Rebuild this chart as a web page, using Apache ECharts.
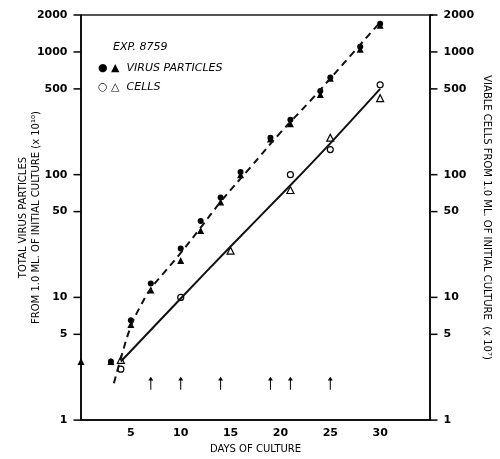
<!DOCTYPE html><html><head><meta charset="utf-8"><script src="https://cdn.jsdelivr.net/npm/echarts@6/dist/echarts.min.js"></script>
<style>html,body{margin:0;background:#fff}#c{width:500px;height:459px}</style></head><body><div id="c"></div><script>
const virusDots=[[3,3],[5,6.5],[7,13],[10,25],[12,42],[14,65],[16,105],[19,200],[21,280],[24,480],[25,620],[28,1100],[30,1700]];
const virusTri=[[0,3],[3,3],[5,6],[7,11.5],[10,20],[12,35],[14,60],[16,100],[19,195],[21,260],[24,450],[25,610],[28,1050],[30,1650]];
const cellCircles=[[4,2.6],[10,10],[21,100],[25,160],[30,540]];
const cellTri=[[4,3.1],[15,24],[21,75],[25,200],[30,420]];
const virusCurve=[[3.3,2],[4,3.2],[5,5.8],[6,8.6],[7,11.8],[8.5,16.5],[10,23],[12,37],[14,60],[17,115],[20,220],[23,400],[26,750],[30,1750]];
const cellLine=[[4,3],[10,9.8],[15,26],[21,82],[25,180],[30,500]];
const arrowDays=[7,10,14,19,21,25];
const yTicks=[1,5,10,50,100,500,1000,2000];
const F='DejaVu Sans';
const ch=echarts.init(document.getElementById('c'));
const tickL=yTicks.map(v=>[0,v]), tickR=yTicks.map(v=>[35,v]);
const lab={color:'#000',fontFamily:F,fontSize:11,fontWeight:'bold',textBorderWidth:0};
ch.setOption({
 animation:false,
 grid:{left:81,right:67,top:15,bottom:37},
 xAxis:{type:'value',min:0,max:35,interval:5,axisLine:{onZero:false,lineStyle:{color:'#111',width:2}},axisTick:{show:false},splitLine:{show:false},
  axisLabel:Object.assign({formatter:v=>(v>0&&v<35)?v:''},lab),
  name:'DAYS OF CULTURE',nameLocation:'middle',nameGap:22,nameTextStyle:{color:'#000',fontFamily:F,fontSize:10}},
 yAxis:[{type:'log',logBase:10,min:1,max:2000,axisLine:{show:true,lineStyle:{color:'#111',width:2}},axisTick:{show:false},axisLabel:{show:false},splitLine:{show:false},
  name:'TOTAL VIRUS PARTICLES\nFROM 1.0 ML. OF INITIAL CULTURE (x 10¹⁰)',nameLocation:'middle',nameGap:38,nameRotate:90,nameTextStyle:{color:'#000',fontFamily:F,fontSize:10,lineHeight:13}},
  {type:'log',logBase:10,min:1,max:2000,position:'right',axisLine:{show:true,lineStyle:{color:'#111',width:2}},axisTick:{show:false},axisLabel:{show:false},splitLine:{show:false},
  name:'VIABLE CELLS FROM 1.0 ML. OF INITIAL CULTURE  (x 10⁷)',nameLocation:'middle',nameGap:52,nameRotate:-90,nameTextStyle:{color:'#000',fontFamily:F,fontSize:10}}],
 graphic:[
  {type:'line',shape:{x1:81,y1:15,x2:433,y2:15},style:{stroke:'#555',lineWidth:2}},
  {type:'text',left:113,top:42,style:{text:'EXP. 8759',font:'italic 11px "DejaVu Sans"',fill:'#000'}},
  {type:'text',left:98,top:63,style:{text:'● ▲  VIRUS PARTICLES',font:'italic 11px "DejaVu Sans"',fill:'#000'}},
  {type:'text',left:98,top:82,style:{text:'○ △  CELLS',font:'italic 11px "DejaVu Sans"',fill:'#000'}}
 ],
 series:[
  {type:'line',data:virusCurve,smooth:0.4,showSymbol:false,lineStyle:{color:'#111',width:2,type:[7,5]}},
  {type:'line',data:cellLine,smooth:0.3,showSymbol:false,lineStyle:{color:'#111',width:2}},
  {type:'scatter',data:virusDots,symbol:'circle',symbolSize:6,itemStyle:{color:'#000',opacity:1}},
  {type:'scatter',data:virusTri,symbol:'triangle',symbolSize:7,itemStyle:{color:'#000',opacity:1}},
  {type:'scatter',data:cellCircles,symbol:'circle',symbolSize:6,itemStyle:{color:'#fff',borderColor:'#000',borderWidth:1.2,opacity:1}},
  {type:'scatter',data:cellTri,symbol:'triangle',symbolSize:7,itemStyle:{color:'#fff',borderColor:'#000',borderWidth:1.2,opacity:1}},
  {type:'scatter',data:arrowDays.map(d=>[d,2]),symbol:'path://M5,0 L10,6 L6,6 L6,20 L4,20 L4,6 L0,6 Z',symbolSize:[5,13],itemStyle:{color:'#000',opacity:1}},
  {type:'scatter',data:tickL,symbol:'rect',symbolSize:[7,1.5],symbolOffset:[-4,0],itemStyle:{color:'#000',opacity:1},clip:false,
   label:Object.assign({show:true,position:'left',distance:6,formatter:p=>p.value[1]},lab)},
  {type:'scatter',data:tickR,symbol:'rect',symbolSize:[7,1.5],symbolOffset:[4,0],itemStyle:{color:'#000',opacity:1},clip:false,
   label:Object.assign({show:true,position:'right',distance:6,formatter:p=>p.value[1]},lab)}
 ]
});
</script></body></html>
